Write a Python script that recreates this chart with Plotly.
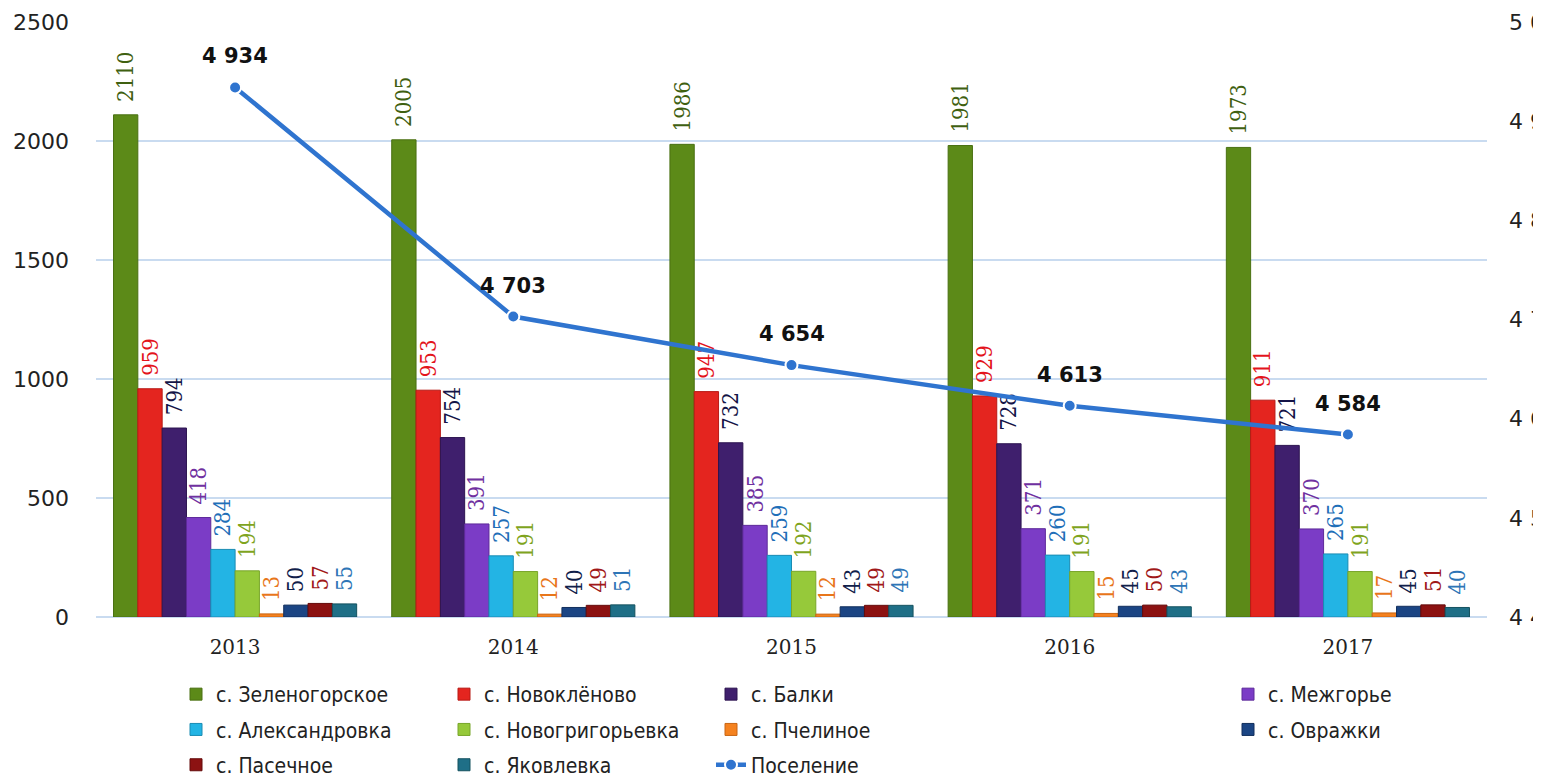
import plotly.graph_objects as go

years = ["2013", "2014", "2015", "2016", "2017"]

series_names = [
    "с. Зеленогорское", "с. Новоклёново", "с. Балки", "с. Межгорье",
    "с. Александровка", "с. Новогригорьевка", "с. Пчелиное", "с. Овражки",
    "с. Пасечное", "с. Яковлевка",
]

zelenogorskoe = [2110, 2005, 1986, 1981, 1973]
novoklenovo = [959, 953, 947, 929, 911]
balki = [794, 754, 732, 728, 721]
mezhgorye = [418, 391, 385, 371, 370]
aleksandrovka = [284, 257, 259, 260, 265]
novogrigoryevka = [194, 191, 192, 191, 191]
pchelinoe = [13, 12, 12, 15, 17]
ovrazhki = [50, 40, 43, 45, 45]
pasechnoe = [57, 49, 49, 50, 51]
yakovlevka = [55, 51, 49, 43, 40]

settlement_total = [4934, 4703, 4654, 4613, 4584]
total_name = "Поселение"

series_values = [zelenogorskoe, novoklenovo, balki, mezhgorye, aleksandrovka,
                 novogrigoryevka, pchelinoe, ovrazhki, pasechnoe, yakovlevka]

bar_colors = ["#5c8a18", "#e4251f", "#3f1f6d", "#7b3cc6", "#23b4e4",
              "#96c93a", "#f5821f", "#1b4584", "#8c1212", "#1f6f87"]
edge_colors = ["#4a7012", "#b81a15", "#2c1450", "#5e2a9a", "#1a8cb3",
               "#78a52a", "#c86514", "#122f5c", "#650b0b", "#15525f"]
label_colors = ["#3f6010", "#e3141b", "#141447", "#7030a0", "#1f6fb8",
                "#7fa41e", "#e8761b", "#10204a", "#a01818", "#2e75b6"]

legend_ids = ["legend", "legend2", "legend3", "legend4"]

# page body has an 8px margin; the figure is sized to fit the window
W, H = 1533, 769

fig = go.Figure()

label_font = "DejaVu Serif Condensed, DejaVu Serif, serif"
legend_font = "DejaVu Sans Condensed, sans-serif"

for i, (name, vals) in enumerate(zip(series_names, series_values)):
    fig.add_trace(go.Bar(
        x=years, y=vals, name=name,
        marker=dict(color=bar_colors[i], line=dict(color=edge_colors[i], width=1)),
        text=["\u2002" + str(v) for v in vals],
        textposition="outside",
        textangle=-90,
        constraintext="none",
        cliponaxis=False,
        outsidetextfont=dict(family=label_font, size=22, color=label_colors[i]),
        legend=legend_ids[i % 4],
        legendgroup=name,
        yaxis="y",
    ))

fig.add_trace(go.Scatter(
    x=years, y=settlement_total, name=total_name,
    mode="lines+markers",
    line=dict(color="#2f74cf", width=4.5),
    marker=dict(color="#2f74cf", size=12, line=dict(color="white", width=2)),
    yaxis="y2",
    legend=legend_ids[10 % 4],
    legendgroup=total_name,
    cliponaxis=False,
))

for idx, v in enumerate(settlement_total):
    fig.add_annotation(
        x=idx, y=v, xref="x", yref="y2", text=f"{v:,}".replace(",", " "),
        showarrow=False, yshift=31,
        font=dict(family="DejaVu Sans, sans-serif", size=21, color="#111111", weight="bold"),
    )

grid_color = "#c9dbf0"

legend_common = dict(
    orientation="v", yanchor="top", xanchor="left",
    xref="container", yref="container",
    bgcolor="rgba(0,0,0,0)", tracegroupgap=5, itemwidth=30,
    font=dict(family=legend_font, size=21, color="#222222"),
    itemclick=False,
)
leg_y = 1 - 666 / H

fig.update_layout(
    width=W, height=H,
    margin=dict(l=88, r=54, t=14, b=160, autoexpand=False),
    paper_bgcolor="white", plot_bgcolor="white",
    barmode="group", bargap=0.126, bargroupgap=0,
    separators=". ",
    showlegend=True,
    xaxis=dict(
        type="category", range=[-0.5, 4.5], autorange=False, automargin=False,
        showgrid=False, zeroline=False, showline=False,
        ticks="", ticklabelstandoff=16,
        tickfont=dict(family="DejaVu Serif, serif", size=20, color="#222222"),
    ),
    yaxis=dict(
        range=[0, 2500], autorange=False, dtick=500, tickformat="d", automargin=False,
        showgrid=True, gridcolor=grid_color, gridwidth=1.5,
        zeroline=True, zerolinecolor=grid_color, zerolinewidth=1.5,
        showline=False, ticks="", ticklabelstandoff=26,
        tickfont=dict(family="DejaVu Sans, sans-serif", size=22, color="#222222"),
    ),
    yaxis2=dict(
        range=[4400, 5000], autorange=False, dtick=100, tickformat=",d", automargin=False,
        overlaying="y", side="right", showgrid=False, zeroline=False,
        showline=False, ticks="", ticklabelstandoff=21,
        tickfont=dict(family="DejaVu Sans, sans-serif", size=22, color="#222222"),
    ),
    legend=dict(x=168 / W, y=leg_y, **legend_common),
    legend2=dict(x=436 / W, y=leg_y, **legend_common),
    legend3=dict(x=703 / W, y=leg_y, **legend_common),
    legend4=dict(x=1220 / W, y=leg_y, **legend_common),
)

fig.write_html("out.html")
